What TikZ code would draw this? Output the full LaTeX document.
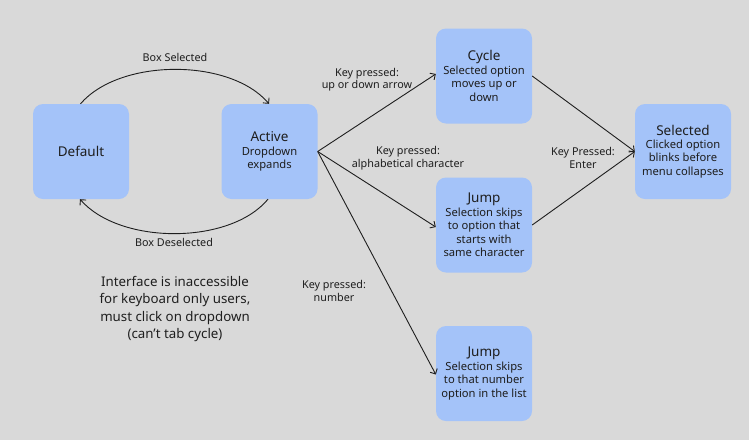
\documentclass[tikz,border=0pt]{standalone}
\usepackage{fontspec}
\setmainfont{Noto Sans}
\usetikzlibrary{arrows.meta}
\definecolor{bg}{HTML}{D9D9D9}
\definecolor{boxblue}{HTML}{A4C3F9}
\definecolor{ink}{HTML}{1E1E1E}
\newcommand{\ttl}[1]{{\fontsize{13.5}{15}\selectfont #1}}
\tikzset{
  statebox/.style={rounded corners=10pt, fill=boxblue, minimum width=96pt, minimum height=95pt, align=center, text=ink, inner sep=0pt, font=\fontsize{11.2}{13.4}\selectfont},
  lbl/.style={align=center, text=ink, font=\fontsize{10.8}{12.5}\selectfont, inner sep=0pt},
  conn/.style={draw=ink, line width=0.9pt, -{Straight Barb[length=4pt,width=8pt,line width=0.9pt]}},
}
\begin{document}
\begin{tikzpicture}[x=1pt,y=-1pt]
\fill[bg] (0,0) rectangle (749,440);
\useasboundingbox (0,0) rectangle (749,440);

\node[statebox] (default) at (81,151.5) {\ttl{Default}};
\node[statebox] (active) at (269.5,151.5) {\ttl{Active}\\Dropdown\\expands};
\node[statebox] (cycle) at (484,76) {\ttl{Cycle}\\Selected option\\moves up or\\down};
\node[statebox] (jumpa) at (484,225) {\ttl{Jump}\\Selection skips\\to option that\\starts with\\same character};
\node[statebox] (jumpb) at (484,373.5) {\ttl{Jump}\\Selection skips\\to that number\\option in the list};
\node[statebox] (selected) at (683,151.5) {\ttl{Selected}\\Clicked option\\blinks before\\menu collapses};

\draw[conn] ([xshift=-0.5pt]default.north) .. controls (120,58) and (230,58) .. ([xshift=-0.5pt]active.north);
\draw[conn] ([xshift=-1.5pt]active.south) .. controls (230,245) and (120,245) .. ([xshift=-1pt]default.south);
\draw[conn] (active.east) -- ([yshift=2pt]cycle.west);
\draw[conn] (active.east) -- ([yshift=-2pt]jumpa.west);
\draw[conn] (active.east) -- ([yshift=-1pt]jumpb.west);
\draw[conn] (cycle.east) -- (selected.west);
\draw[conn] (jumpa.east) -- (selected.west);

\node[lbl] (l1) at (175,57) {Box Selected};
\node[lbl] (l2) at (174,242) {Box Deselected};
\node[lbl] (l3) at (367,79.5) {Key pressed:\\up or down arrow};
\node[lbl] (l4) at (408,158) {Key pressed:\\alphabetical character};
\node[lbl] (l5) at (583,158) {Key Pressed:\\Enter};
\node[lbl] (l6) at (334,291) {Key pressed:\\number};
\node[lbl, font=\fontsize{13.3}{17.3}\selectfont] (note) at (175,309) {Interface is inaccessible\\for keyboard only users,\\must click on dropdown\\(can't tab cycle)};
\end{tikzpicture}
\end{document}
